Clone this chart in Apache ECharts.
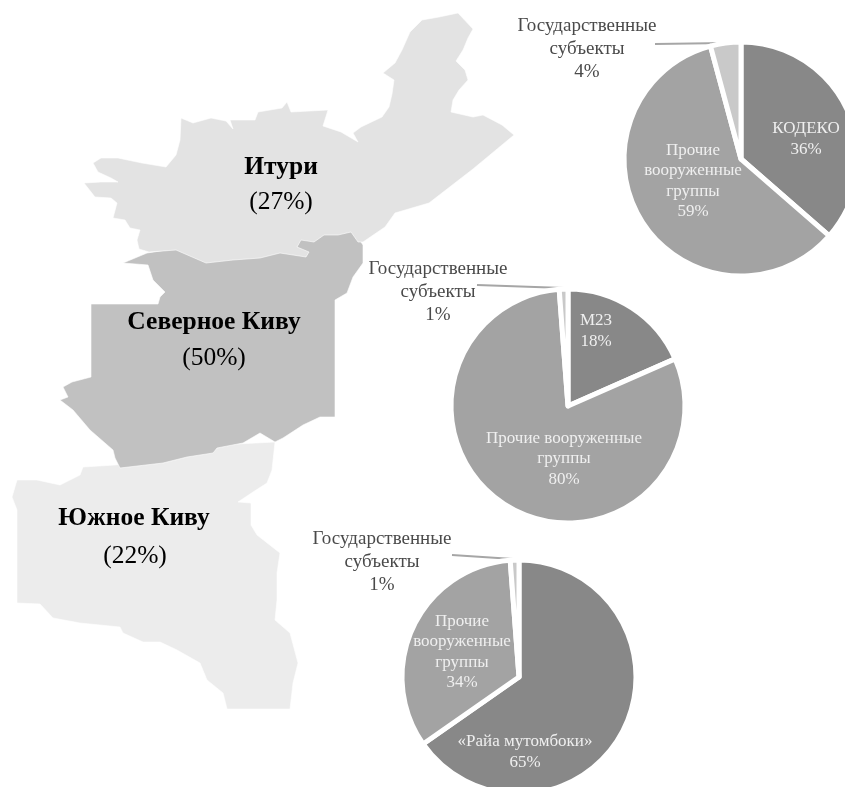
<!DOCTYPE html>
<html><head><meta charset="utf-8">
<style>html,body{margin:0;padding:0;background:#fff}#c{width:845px;height:787px}</style>
<script src="https://cdn.jsdelivr.net/npm/echarts@6/dist/echarts.min.js"></script>
</head><body><div id="c"></div>
<script>
// ---- data -------------------------------------------------
const regionNames = ['Итури', 'Северное Киву', 'Южное Киву'];
const regionShares = [27, 50, 22];
const pie1Names = ['КОДЕКО', 'Прочие\nвооруженные\nгруппы', 'Государственные\nсубъекты'];
const pie1Values = [36.4, 59.4, 4.2];
const pie2Names = ['М23', 'Прочие вооруженные\nгруппы', 'Государственные\nсубъекты'];
const pie2Values = [18.4, 80.4, 1.2];
const pie3Names = ['«Райа мутомбоки»', 'Прочие\nвооруженные\nгруппы', 'Государственные\nсубъекты'];
const pie3Values = [65.3, 33.5, 1.2];

// ---- region outlines (map geometry, image units) ----------
const ituriOutline = [[458,13],[473,29],[468,38],[463,50],[456,61],[465,70],[468,80],[459,90],[453,100],[451,112],[473,117],[483,115],[502,125],[514,135],[473,169],[429,203],[395,213],[385,227],[363,242],[358,242],[351,232],[338,235],[324,235],[314,242],[301,240],[297,247],[309,252],[306,257],[280,253],[260,258],[233,260],[206,263],[199,260],[176,250],[149,252],[139,249],[137,240],[140,230],[130,228],[125,220],[113,218],[117,203],[111,198],[95,197],[84,183],[101,182],[118,182],[111,178],[98,172],[93,163],[101,158],[118,158],[142,163],[166,167],[176,155],[180,140],[181,118],[193,123],[211,118],[226,121],[233,129],[230,120],[255,120],[258,112],[282,108],[287,102],[291,112],[328,110],[323,126],[341,132],[358,142],[353,133],[361,127],[382,117],[389,107],[392,94],[394,80],[383,73],[395,63],[402,50],[410,32],[422,20],[439,17]];
const northKivuOutline = [[123,263],[147,253],[180,248],[207,250],[233,250],[257,250],[273,245],[290,240],[300,232],[337,230],[352,229],[363,245],[363,263],[353,277],[347,293],[335,300],[335,417],[320,417],[303,425],[283,438],[275,442],[260,433],[243,443],[217,448],[213,453],[187,457],[163,463],[120,468],[115,458],[113,450],[90,430],[73,410],[60,400],[68,397],[63,387],[72,382],[91,377],[91,304],[158,304],[160,297],[165,292],[153,280],[148,265]];
const southKivuOutline = [[17,480],[37,480],[60,485],[70,480],[80,475],[83,467],[115,465],[153,460],[183,455],[217,445],[275,442],[272,470],[267,483],[253,492],[238,502],[251,503],[251,525],[257,535],[280,553],[277,573],[277,600],[275,620],[290,633],[298,663],[293,683],[290,709],[227,709],[223,693],[207,680],[200,663],[177,650],[160,642],[143,642],[123,633],[120,627],[80,623],[53,618],[40,604],[17,603],[17,510],[12,497]];

// ---- styling and layout -----------------------------------
const SERIF = '"Liberation Serif","Times New Roman",serif';
const regionStyles = [
  {outline: ituriOutline, fill: '#e3e3e3', title: [281,167], share: [281,202]},
  {outline: northKivuOutline, fill: '#c1c1c1', title: [214,322], share: [214,358]},
  {outline: southKivuOutline, fill: '#ececec', title: [134,518], share: [135,556]}
];
const drawOrder = [2, 1, 0];
const sliceColors = ['#888888', '#a3a3a3', '#c9c9c9'];
const pieLayouts = [
  {center: [741,159], labels: [[806,139],[693,181],[587,49]], line: [[655,44],[727,43]]},
  {center: [568,406], labels: [[596,331],[564,459],[438,292]], line: [[477,285],[564,288]]},
  {center: [519,677], labels: [[525,752],[462,652],[382,562]], line: [[452,555],[513,559]]}
];

function regionSeries(idx) {
  const st = regionStyles[idx];
  return {
    type: 'custom', coordinateSystem: 'cartesian2d', silent: true, clip: false,
    data: [[0, 0]],
    z: 1,
    renderItem: (p, api) => {
      const pts = st.outline.map(q => api.coord(q));
      const t = api.coord(st.title), s = api.coord(st.share);
      return {type: 'group', children: [
        {type: 'polygon', shape: {points: pts},
         style: {fill: st.fill, stroke: '#ffffff', lineWidth: 0.6}},
        {type: 'text', x: t[0], y: t[1], z2: 10,
         style: {text: regionNames[idx], font: 'bold 25.5px ' + SERIF, fill: '#000', align: 'center', verticalAlign: 'middle'}},
        {type: 'text', x: s[0], y: s[1], z2: 10,
         style: {text: '(' + regionShares[idx] + '%)', font: '25.5px ' + SERIF, fill: '#000', align: 'center', verticalAlign: 'middle'}}
      ]};
    }
  };
}

function pieSeries(names, values, layout) {
  return {
    type: 'pie', radius: [0, 117], center: layout.center, startAngle: 90, clockwise: true,
    silent: true, animation: false, z: 5,
    itemStyle: {borderColor: '#fff', borderWidth: 5},
    data: names.map((n, i) => ({
      name: n, value: values[i],
      itemStyle: {color: sliceColors[i]},
      label: {
        show: true, position: i === 2 ? 'outside' : 'inside',
        color: i === 2 ? '#4a4a4a' : '#efefef',
        fontFamily: SERIF, fontSize: i === 2 ? 19 : 17, lineHeight: i === 2 ? 23 : 20.5,
        align: 'center',
        formatter: () => n + '\n' + Math.round(values[i]) + '%'
      },
      labelLine: {show: i === 2, lineStyle: {color: '#a6a6a6', width: 2}}
    })),
    labelLayout: p => {
      const at = layout.labels[p.dataIndex];
      const out = {x: at[0], y: at[1], align: 'center', verticalAlign: 'middle', hideOverlap: false};
      if (p.dataIndex === 2) out.labelLinePoints = layout.line;
      return out;
    }
  };
}

const chart = echarts.init(document.getElementById('c'), null, {renderer: 'canvas'});
chart.setOption({
  animation: false,
  backgroundColor: '#ffffff',
  grid: {left: 0, right: 0, top: 0, bottom: 0},
  xAxis: {type: 'value', min: 0, max: 845, show: false},
  yAxis: {type: 'value', min: 0, max: 787, inverse: true, show: false},
  series: [
    ...drawOrder.map(regionSeries),
    pieSeries(pie1Names, pie1Values, pieLayouts[0]),
    pieSeries(pie2Names, pie2Values, pieLayouts[1]),
    pieSeries(pie3Names, pie3Values, pieLayouts[2])
  ]
});
</script></body></html>
